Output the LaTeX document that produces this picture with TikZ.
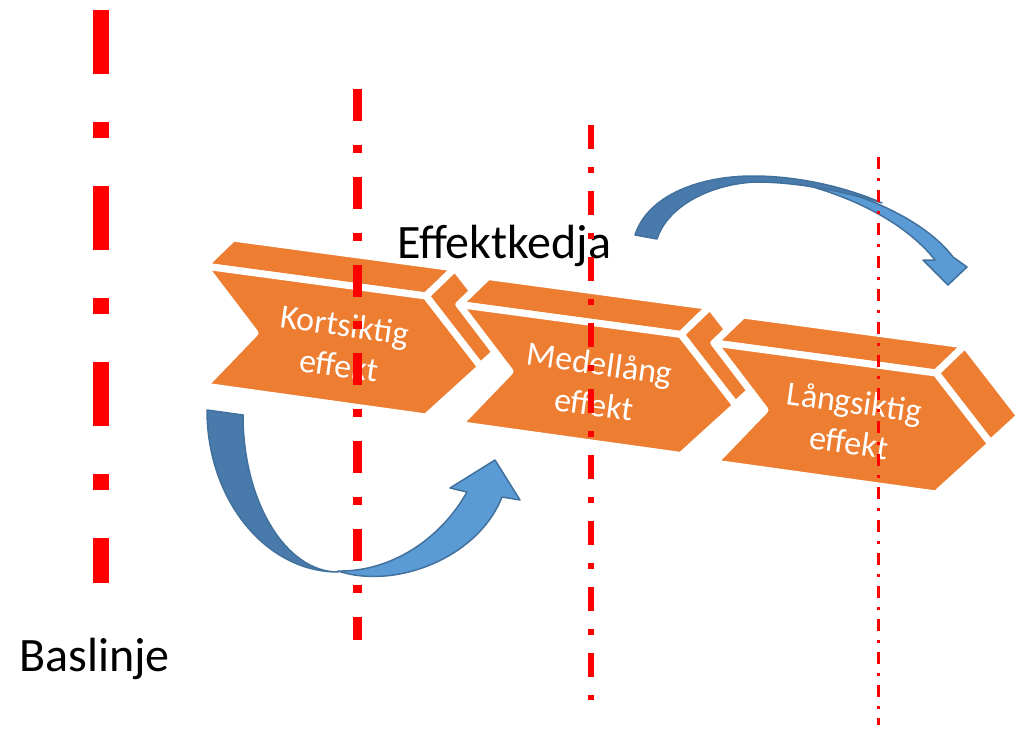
\documentclass[tikz,border=0pt]{standalone}
\usepackage{fontspec}
\setmainfont{Carlito}
\definecolor{org}{RGB}{237,125,49}
\definecolor{bdark}{RGB}{72,122,171}
\definecolor{blight}{RGB}{91,155,213}
\definecolor{bline}{RGB}{65,113,156}
\definecolor{redline}{RGB}{255,0,0}
\newcommand{\chevblock}[4]{%
  \begin{scope}[shift={(#1,#2)}]
    \path[face] (204,266) -- (426,296) -- (455,268) -- (233,238) -- cycle;
    \path[face] (426,296) -- (481,367) -- (510,339) -- (455,268) -- cycle;
    \path[face] (481,367) -- (426,417) -- (455,389) -- (510,339) -- cycle;
    \path[face] (204,266) -- (426,296) -- (481,367) -- (426,417) -- (204,386) -- (255,333) -- cycle;
    \node[lbl] (#4) at (342,345) {#3};
  \end{scope}}
\begin{document}
\begin{tikzpicture}[x=1pt,y=-1pt,
  face/.style={fill=org,draw=white,line width=7pt,line join=round},
  lbl/.style={text=white,font=\fontsize{34}{41}\selectfont,align=center,rotate=-8,inner sep=0pt},
  bigtxt/.style={font=\fontsize{48}{57}\selectfont,anchor=base west,inner sep=0pt},
  darkband/.style={fill=bdark,draw=bline,line width=1.5pt,line join=round},
  lightband/.style={fill=blight,draw=bline,line width=1.5pt,line join=round},
  redrule/.style={draw=redline,line cap=butt}]
\useasboundingbox (0,0) rectangle (1020,733);

% chevrons
\chevblock{0}{0}{Kortsiktig\\effekt}{c1}
\chevblock{255}{38.5}{Medellång\\effekt}{c2}
\chevblock{510}{77}{Långsiktig\\effekt}{c3}

% lower curved arrow
\path[darkband] (207,410) .. controls (207,500) and (266,572) .. (338,572)
  .. controls (286,572) and (243,502) .. (243,415) -- cycle;
\path[lightband] (338,571) .. controls (395,590) and (478,558) .. (502,497)
  -- (520,500) -- (495,460) -- (450,488) -- (467,492)
  .. controls (440,540) and (390,572) .. (338,571) -- cycle;

% upper curved arrow
\path[lightband] (790,179) .. controls (860,190) and (925,220) .. (953,257)
  -- (967,267) -- (948,285) -- (923,260) -- (935,260)
  .. controls (910,228) and (860,197) .. (790,181) -- cycle;
\path[darkband] (635,235) .. controls (648,195) and (700,176) .. (753,176)
  .. controls (800,176) and (848,188) .. (882,203)
  .. controls (845,192) and (800,182) .. (755,182)
  .. controls (712,184) and (668,205) .. (657,239) -- cycle;

% texts
\node[bigtxt] (ek) at (397,258) {Effektkedja};
\node[bigtxt] (bl) at (19,671) {Baslinje};

% vertical dash-dot lines
\coordinate (l1a) at (101,10);   \coordinate (l1b) at (101,583);
\coordinate (l2a) at (357.5,89); \coordinate (l2b) at (357.5,640);
\coordinate (l3a) at (591,125);  \coordinate (l3b) at (591,700);
\coordinate (l4a) at (878,157);  \coordinate (l4b) at (878,725);
\draw[redrule,line width=16pt,dash pattern=on 64pt off 48pt on 16pt off 48pt] (l1a) -- (l1b);
\draw[redrule,line width=8.5pt,dash pattern=on 32pt off 24pt on 8pt off 24pt] (l2a) -- (l2b);
\draw[redrule,line width=6pt,dash pattern=on 24pt off 18pt on 6pt off 18pt] (l3a) -- (l3b);
\draw[redrule,line width=3pt,dash pattern=on 12pt off 9pt on 3pt off 9pt] (l4a) -- (l4b);
\end{tikzpicture}
\end{document}
